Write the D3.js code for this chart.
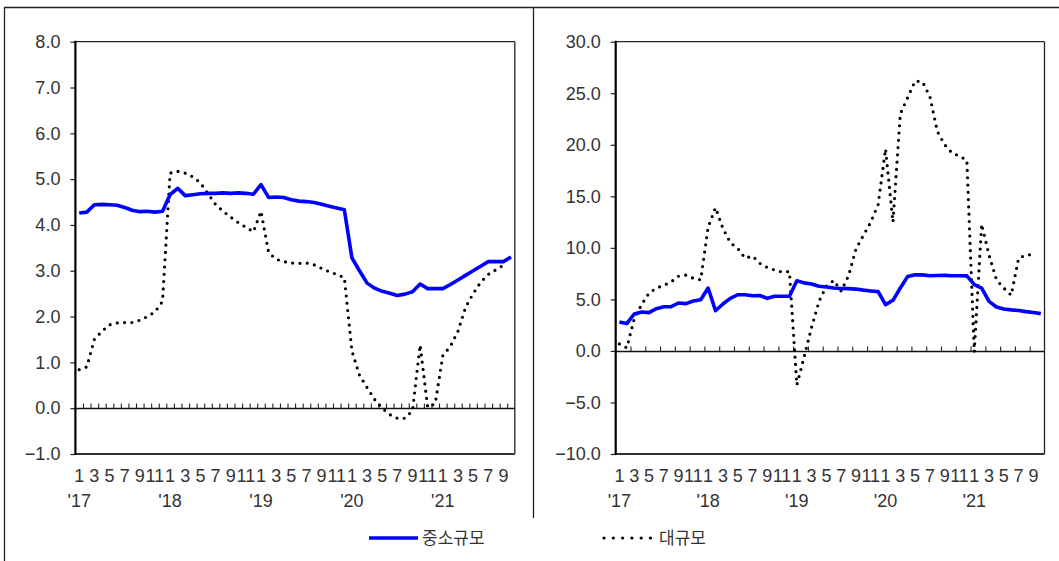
<!DOCTYPE html>
<html><head><meta charset="utf-8">
<script src="https://cdn.jsdelivr.net/npm/d3@7"></script>
<style>body{margin:0;background:#fff}svg{display:block}</style>
</head><body><svg id="c" width="1059" height="561"></svg>
<script>
const categories = ["17.1","17.2","17.3","17.4","17.5","17.6","17.7","17.8","17.9","17.10","17.11","17.12",
"18.1","18.2","18.3","18.4","18.5","18.6","18.7","18.8","18.9","18.10","18.11","18.12",
"19.1","19.2","19.3","19.4","19.5","19.6","19.7","19.8","19.9","19.10","19.11","19.12",
"20.1","20.2","20.3","20.4","20.5","20.6","20.7","20.8","20.9","20.10","20.11","20.12",
"21.1","21.2","21.3","21.4","21.5","21.6","21.7","21.8","21.9","21.10"];
const monthLabels = ["1","","3","","5","","7","","9","","11","",
"1","","3","","5","","7","","9","","11","",
"1","","3","","5","","7","","9","","11","",
"1","","3","","5","","7","","9","","11","",
"1","","3","","5","","7","","9",""];
const yearLabels = {"17.1":"'17","18.1":"'18","19.1":"'19","20.1":"'20","21.1":"'21"};

// left panel
const smallLeft = [4.26,4.28,4.44,4.45,4.44,4.43,4.38,4.32,4.29,4.30,4.28,4.30,
4.66,4.80,4.64,4.66,4.68,4.69,4.69,4.70,4.69,4.70,4.69,4.67,
4.88,4.60,4.61,4.60,4.55,4.52,4.51,4.49,4.45,4.41,4.37,4.33,
3.28,3.00,2.73,2.62,2.55,2.51,2.46,2.49,2.54,2.71,2.61,2.61,
2.61,2.70,2.80,2.90,3.00,3.10,3.20,3.20,3.20,3.30];
const largeLeft = [0.84,0.90,1.50,1.68,1.82,1.86,1.87,1.87,1.92,2.00,2.10,2.33,
5.13,5.17,5.13,5.05,4.92,4.68,4.45,4.30,4.17,4.05,3.95,3.85,
4.30,3.40,3.25,3.20,3.17,3.16,3.17,3.13,3.05,2.98,2.92,2.85,
1.25,0.72,0.45,0.19,0.00,-0.14,-0.22,-0.22,-0.05,1.38,0.02,0.10,
1.15,1.35,1.68,2.20,2.50,2.75,2.92,3.02,3.12];
const leftTicks = [-1,0,1,2,3,4,5,6,7,8];

// right panel
const smallRight = [2.80,2.65,3.58,3.77,3.72,4.10,4.29,4.29,4.65,4.59,4.85,4.97,
6.10,3.90,4.55,5.10,5.45,5.45,5.36,5.38,5.10,5.30,5.30,5.30,
6.81,6.60,6.50,6.27,6.20,6.10,6.05,6.04,6.00,5.90,5.82,5.75,
4.49,4.91,6.10,7.23,7.39,7.38,7.30,7.32,7.33,7.30,7.30,7.28,
6.43,6.10,4.81,4.26,4.07,3.98,3.92,3.81,3.72,3.62];
const largeRight = [0.68,0.30,3.10,4.50,5.60,6.10,6.35,6.70,7.25,7.35,7.05,6.90,
12.0,13.9,11.9,10.5,9.95,9.00,9.20,8.50,8.10,7.85,7.65,7.70,
-3.30,-0.55,2.30,4.80,6.30,6.84,5.80,7.30,9.90,11.20,12.50,14.20,
19.60,12.50,23.00,24.60,26.20,26.10,24.67,21.30,20.00,19.20,18.90,18.50,
-0.10,12.30,9.30,6.90,6.10,5.40,9.00,9.30,9.35];
const rightTicks = [-10,-5,0,5,10,15,20,25,30];

const seriesNames = ["중소규모","대규모"];

const svg = d3.select("#c");
const FONT = "'Liberation Sans', Arial, sans-serif";
const TXT = "#333";

// outer frame
svg.append("line").attr("x1",4).attr("x2",1059).attr("y1",7.5).attr("y2",7.5).attr("stroke","#222").attr("stroke-width",1.3);
svg.append("line").attr("x1",4.5).attr("x2",4.5).attr("y1",7).attr("y2",561).attr("stroke","#222").attr("stroke-width",1.3);
svg.append("line").attr("x1",533.5).attr("x2",533.5).attr("y1",7).attr("y2",518).attr("stroke","#222").attr("stroke-width",1.3);

function panel(cfg){
  const {x0,x1,y0,y1,domain,ticks,small,large,tickEvery} = cfg;
  const x = d3.scaleBand().domain(categories).range([x0,x1]).padding(0);
  const bw = x.bandwidth();
  const cx = c => x(c) + bw/2;
  const y = d3.scaleLinear().domain(domain).range([y1,y0]);
  const g = svg.append("g");

  // y axis
  const ax = g.append("g").attr("transform",`translate(${x0},0)`)
    .call(d3.axisLeft(y).tickValues(ticks).tickFormat(d3.format(".1f")).tickSize(5).tickPadding(10));
  ax.select(".domain").remove();
  ax.selectAll(".tick line").attr("stroke","#222").attr("stroke-width",1.2);
  ax.selectAll(".tick text").attr("font-family",FONT).attr("font-size",18).attr("fill",TXT);

  // zero line + tick marks
  const y0v = Math.round(y(0))+0.5;
  const tickCats = categories.filter((c,i)=> i>0 && i%tickEvery===0);
  g.selectAll(".zt").data(tickCats).enter().append("line")
    .attr("x1",c=>x(c)+0.5).attr("x2",c=>x(c)+0.5)
    .attr("y1",y0v-5).attr("y2",y0v).attr("stroke","#222").attr("stroke-width",1.1);
  g.append("line").attr("x1",x0).attr("x2",x1).attr("y1",y0v).attr("y2",y0v).attr("stroke","#111").attr("stroke-width",1.6);

  // plot border
  g.append("line").attr("x1",x0).attr("x2",x1).attr("y1",y0).attr("y2",y0).attr("stroke","#222").attr("stroke-width",1.3);
  g.append("line").attr("x1",x1).attr("x2",x1).attr("y1",y0).attr("y2",y1).attr("stroke","#222").attr("stroke-width",1.3);
  g.append("line").attr("x1",x0).attr("x2",x1).attr("y1",y1).attr("y2",y1).attr("stroke","#333").attr("stroke-width",2);
  g.append("line").attr("x1",x0).attr("x2",x0).attr("y1",y0-1).attr("y2",y1+1).attr("stroke","#000").attr("stroke-width",2.2);

  // month labels
  g.selectAll(".ml").data(categories.filter((c,i)=>monthLabels[i]!=="")).enter().append("text")
    .attr("x",cx).attr("y",482).attr("text-anchor","middle")
    .attr("font-family",FONT).attr("font-size",18).attr("fill",TXT)
    .text(c=>monthLabels[categories.indexOf(c)]);
  g.selectAll(".yl").data(Object.keys(yearLabels)).enter().append("text")
    .attr("x",cx).attr("y",507).attr("text-anchor","middle")
    .attr("font-family",FONT).attr("font-size",18).attr("fill",TXT)
    .text(c=>yearLabels[c]);

  const line = d3.line().x((d,i)=>cx(categories[i])).y(d=>y(d));
  g.append("path").datum(large).attr("d",line).attr("fill","none")
    .attr("stroke","#000").attr("stroke-width",3.2).attr("stroke-linecap","round")
    .attr("stroke-dasharray","0 7.3");
  g.append("path").datum(small).attr("d",line).attr("fill","none")
    .attr("stroke","#0000ff").attr("stroke-width",3.6).attr("stroke-linejoin","round");
}

panel({x0:75.4,x1:514.8,y0:41.7,y1:454,domain:[-1,8],ticks:leftTicks,small:smallLeft,large:largeLeft,tickEvery:1});
panel({x0:615.7,x1:1044.5,y0:41.7,y1:454,domain:[-10,30],ticks:rightTicks,small:smallRight,large:largeRight,tickEvery:2});

// legend
const lg = svg.append("g");
lg.append("line").attr("x1",369).attr("x2",418).attr("y1",538).attr("y2",538).attr("stroke","#0000ff").attr("stroke-width",3.6);
lg.append("text").attr("x",422).attr("y",544).attr("font-family","'Noto Sans CJK KR', sans-serif").attr("font-size",17).attr("fill",TXT).text(seriesNames[0]);
lg.append("line").attr("x1",604).attr("x2",651).attr("y1",538).attr("y2",538).attr("stroke","#000").attr("stroke-width",3.2).attr("stroke-linecap","round").attr("stroke-dasharray","0 9.3");
lg.append("text").attr("x",659).attr("y",544).attr("font-family","'Noto Sans CJK KR', sans-serif").attr("font-size",17).attr("fill",TXT).text(seriesNames[1]);
</script></body></html>
